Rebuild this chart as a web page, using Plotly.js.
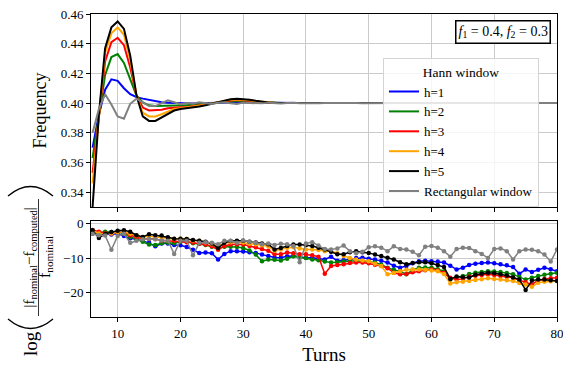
<!DOCTYPE html>
<html>
<head>
<meta charset="utf-8">
<script src="https://cdn.plot.ly/plotly-3.0.1.min.js"></script>
<style>html,body{margin:0;padding:0;background:#fff;}#chart{width:563px;height:366px;}</style>
</head>
<body>
<div id="chart"></div>
<script>
const turns = [6,7,8,9,10,11,12,13,14,15,16,17,18,19,20,21,22,23,24,25,26,27,28,29,30,31,32,33,34,35,36,37,38,39,40,41,42,43,44,45,46,47,48,49,50,51,52,53,54,55,56,57,58,59,60,61,62,63,64,65,66,67,68,69,70,71,72,73,74,75,76,77,78,79,80];
const xTickVals = [10,20,30,40,50,60,70,80];

const seriesNames = ["h=1","h=2","h=3","h=4","h=5","Rectangular window"];
const seriesColors = ["#0000ff","#008000","#ff0000","#ffa500","#000000","#808080"];

// Frequency (top panel)
const freq_h1 = [0.370,0.392,0.409,0.416,0.415,0.410,0.406,0.404,0.403,0.402,0.401,0.4005,0.4003,0.4001,0.4,0.3998,0.3997,0.3998,0.4,0.4,0.4002,0.4004,0.4005,0.4005,0.4005,0.4004,0.4003,0.4002,0.4001,0.4,0.4,0.4,0.4001,0.4,0.4,0.3999,0.4,0.4,0.4,0.4001,0.4,0.4,0.4,0.4,0.4,0.4,0.4,0.4001,0.4,0.4,0.4,0.4,0.4,0.4,0.4,0.4,0.4,0.4,0.4,0.4,0.4,0.4,0.4,0.4,0.4,0.4,0.4,0.4,0.4,0.4,0.4,0.4,0.4,0.4,0.4];
const freq_h2 = [0.363,0.392,0.419,0.431,0.433,0.427,0.416,0.405,0.4005,0.3985,0.398,0.398,0.3983,0.3985,0.3985,0.3985,0.3988,0.3992,0.3996,0.4,0.4005,0.401,0.4013,0.4014,0.4013,0.401,0.4007,0.4004,0.4002,0.4001,0.4,0.4,0.4,0.4,0.4,0.4,0.4,0.4,0.4,0.4,0.4,0.4,0.4,0.4,0.4,0.4,0.4,0.4,0.4,0.4,0.4,0.4,0.4,0.4,0.4,0.4,0.4,0.4,0.4,0.4,0.4,0.4,0.4,0.4,0.4,0.4,0.4,0.4,0.4,0.4,0.4,0.4,0.4,0.4,0.4];
const freq_h3 = [0.353,0.392,0.428,0.441,0.444,0.439,0.424,0.405,0.397,0.395,0.395,0.3955,0.3965,0.397,0.3972,0.3974,0.3978,0.3984,0.399,0.3998,0.4006,0.4013,0.4018,0.402,0.4019,0.4015,0.401,0.4006,0.4003,0.4001,0.4,0.4,0.4,0.4,0.4,0.4,0.4,0.4,0.4,0.4,0.4,0.4,0.4,0.4,0.4,0.4,0.4,0.4,0.4,0.4,0.4,0.4,0.4,0.4,0.4,0.4,0.4,0.4,0.4,0.4,0.4,0.4,0.4,0.4,0.4,0.4,0.4,0.4,0.4,0.4,0.4,0.4,0.4,0.4,0.4];
const freq_h4 = [0.346,0.392,0.434,0.447,0.451,0.446,0.429,0.405,0.3935,0.391,0.391,0.3925,0.3945,0.396,0.3965,0.397,0.3973,0.398,0.3988,0.3997,0.4007,0.4016,0.4022,0.4024,0.4023,0.4019,0.4013,0.4008,0.4004,0.4002,0.4,0.4,0.4,0.4,0.4,0.4,0.4,0.4,0.4,0.4,0.4,0.4,0.4,0.4,0.4,0.4,0.4,0.4,0.4,0.4,0.4,0.4,0.4,0.4,0.4,0.4,0.4,0.4,0.4,0.4,0.4,0.4,0.4,0.4,0.4,0.4,0.4,0.4,0.4,0.4,0.4,0.4,0.4,0.4,0.4];
const freq_h5 = [0.330,0.392,0.437,0.451,0.455,0.450,0.432,0.405,0.391,0.388,0.388,0.3905,0.393,0.395,0.396,0.3965,0.397,0.3977,0.3986,0.3996,0.4008,0.4018,0.4026,0.4029,0.4028,0.4023,0.4016,0.4009,0.4004,0.4002,0.4,0.4,0.4,0.4,0.4,0.4,0.4,0.4,0.4,0.4,0.4,0.4,0.4,0.4,0.4,0.4,0.4,0.4,0.4,0.4,0.4,0.4,0.4,0.4,0.4,0.4,0.4,0.4,0.4,0.4,0.4,0.4,0.4,0.4,0.4,0.4,0.4,0.4,0.4,0.4,0.4,0.4,0.4,0.4,0.4];
const freq_rect = [0.380,0.396,0.406,0.399,0.391,0.3895,0.3995,0.403,0.4005,0.398,0.398,0.4,0.4018,0.4005,0.3992,0.4,0.3996,0.4006,0.4,0.3994,0.4002,0.4005,0.3998,0.3994,0.4003,0.4001,0.3995,0.3998,0.4003,0.4,0.3997,0.4,0.4002,0.3998,0.4,0.4001,0.3999,0.4,0.4001,0.3999,0.4,0.4,0.4001,0.3999,0.4,0.4,0.4001,0.4,0.3999,0.4,0.4,0.4001,0.4,0.3999,0.4,0.4,0.4001,0.4,0.3999,0.4,0.4,0.4,0.4001,0.4,0.3999,0.4,0.4,0.4001,0.4,0.3999,0.4,0.4,0.4,0.4001,0.4];

// log relative error (bottom panel)
const err_h1 = [-2.9,-3.0,-2.9,-3.2,-2.9,-3.6,-4.3,-4.6,-5.0,-5.6,-6.6,-5.8,-5.8,-6.2,-6.3,-6.8,-7.6,-8.5,-8.4,-8.6,-10.4,-8.8,-8.0,-8.0,-8.1,-8.3,-8.5,-9.0,-9.4,-9.8,-9.9,-9.5,-9.4,-9.7,-9.9,-9.9,-10.2,-10.4,-9.6,-10.8,-10.6,-10.3,-10.0,-9.9,-10.2,-10.4,-10.8,-11.3,-12.2,-12.8,-12.3,-11.5,-10.9,-10.8,-10.9,-11.0,-11.3,-12.2,-13.3,-12.8,-12.0,-11.6,-11.4,-11.3,-11.5,-11.8,-12.1,-12.6,-14.5,-13.3,-14.0,-13.4,-12.8,-13.2,-13.8];
const err_h2 = [-2.9,-2.6,-2.4,-2.5,-2.4,-3.0,-3.9,-4.6,-5.3,-6.1,-6.2,-5.7,-5.6,-5.7,-5.3,-5.3,-5.7,-5.9,-6.2,-6.7,-7.2,-6.7,-6.7,-6.8,-7.1,-7.8,-9.0,-10.9,-10.4,-10.5,-10.7,-10.2,-9.5,-9.8,-10.0,-10.4,-10.6,-11.0,-11.3,-11.2,-11.0,-10.8,-10.8,-10.9,-11.1,-11.3,-11.9,-12.8,-13.4,-13.8,-14.7,-13.4,-12.8,-12.7,-12.8,-13.2,-13.8,-16.2,-15.5,-15.2,-14.6,-14.2,-14.0,-13.8,-13.9,-14.0,-14.3,-14.7,-15.4,-16.2,-15.7,-15.2,-14.8,-14.5,-14.2];
const err_h3 = [-1.9,-2.4,-2.8,-2.9,-2.5,-2.6,-3.4,-4.0,-4.4,-4.5,-4.5,-4.9,-5.0,-5.0,-5.1,-5.4,-5.5,-5.9,-6.1,-6.6,-7.6,-6.5,-6.1,-6.0,-6.1,-6.5,-6.9,-7.4,-7.9,-8.9,-8.9,-8.4,-8.6,-8.9,-8.9,-9.2,-9.6,-14.5,-12.3,-12.0,-11.8,-11.4,-11.3,-11.3,-11.5,-11.9,-12.3,-12.9,-14.2,-14.7,-14.6,-14.1,-13.8,-13.5,-13.3,-13.6,-14.2,-15.7,-16.2,-16.0,-15.4,-15.1,-14.9,-14.7,-14.9,-15.2,-15.4,-15.7,-16.4,-17.0,-17.6,-16.4,-16.0,-15.8,-15.7];
const err_h4 = [-2.1,-2.9,-3.0,-2.9,-2.5,-2.5,-3.0,-3.5,-4.0,-3.6,-4.0,-4.0,-4.4,-4.5,-4.4,-4.5,-4.9,-5.0,-5.4,-6.0,-6.6,-5.6,-5.4,-5.4,-5.5,-5.9,-6.0,-6.3,-6.6,-7.9,-7.5,-7.0,-6.9,-7.2,-7.5,-7.5,-7.7,-8.0,-8.0,-8.6,-9.4,-10.0,-10.4,-10.7,-10.9,-11.6,-12.3,-14.7,-14.3,-13.8,-13.4,-13.3,-13.3,-13.4,-13.6,-13.8,-14.6,-17.3,-17.0,-16.8,-16.6,-16.3,-16.1,-15.8,-16.0,-16.2,-16.4,-16.6,-17.2,-17.6,-18.3,-17.1,-16.8,-16.7,-16.6];
const err_h5 = [-2.0,-4.2,-3.0,-2.5,-2.1,-2.0,-2.4,-3.4,-3.9,-3.1,-3.4,-3.5,-4.0,-4.4,-4.4,-4.5,-4.8,-5.0,-5.3,-5.8,-7.1,-5.6,-5.1,-5.0,-5.0,-5.3,-5.5,-5.8,-6.0,-7.5,-7.1,-6.5,-6.1,-6.1,-6.2,-6.5,-7.0,-7.5,-8.2,-8.9,-8.9,-8.3,-8.0,-8.3,-8.5,-9.0,-9.4,-9.9,-10.4,-11.2,-11.8,-11.4,-11.2,-11.2,-11.5,-12.0,-12.6,-16.0,-15.3,-15.5,-15.6,-14.8,-14.5,-14.2,-14.4,-14.7,-15.0,-15.6,-16.2,-19.2,-16.5,-16.2,-16.2,-16.4,-16.6];
const err_rect = [-3.0,-3.4,-3.5,-7.6,-3.6,-3.0,-5.6,-5.0,-4.6,-4.4,-4.6,-4.9,-5.0,-8.8,-5.0,-5.0,-9.2,-5.6,-5.4,-5.6,-6.0,-5.0,-5.0,-5.6,-4.9,-5.3,-5.6,-6.0,-5.8,-6.2,-5.9,-6.0,-6.5,-11.2,-5.8,-5.4,-6.4,-7.4,-7.5,-7.2,-6.4,-8.0,-8.6,-8.2,-6.9,-6.6,-7.0,-8.0,-6.6,-7.4,-7.5,-8.2,-9.2,-6.7,-6.5,-7.0,-8.0,-9.6,-7.4,-7.0,-7.1,-8.0,-8.8,-10.0,-7.4,-7.2,-8.0,-10.4,-8.0,-7.5,-7.6,-8.0,-9.0,-11.0,-7.5];

const freqSeries = [freq_h1,freq_h2,freq_h3,freq_h4,freq_h5,freq_rect];
const errSeries = [err_h1,err_h2,err_h3,err_h4,err_h5,err_rect];

const FONT = "Liberation Serif, Times New Roman, serif";
const L = 91, R = 557, T = 14, B = 317, W = R - L, H = B - T;
const px = x => (x - L) / W;
const py = y => (B - y) / H;

const traces = [];
freqSeries.forEach((s, i) => {
  traces.push({x: turns, y: s, xaxis: 'x', yaxis: 'y', type: 'scatter', mode: 'lines',
    name: seriesNames[i], line: {color: seriesColors[i], width: 2}, showlegend: true});
});
errSeries.forEach((s, i) => {
  traces.push({x: turns, y: s, xaxis: 'x2', yaxis: 'y2', type: 'scatter', mode: 'lines+markers',
    name: seriesNames[i], line: {color: seriesColors[i], width: 1.5},
    marker: {color: seriesColors[i], size: 4.5}, showlegend: false});
});

const axBase = {
  showline: true, mirror: true, linecolor: '#000', linewidth: 1,
  ticks: 'outside', ticklen: 4, tickwidth: 1, tickcolor: '#000',
  showgrid: true, gridcolor: '#cbcbcb', gridwidth: 1, zeroline: false,
  ticklabeloverflow: 'allow',
  tickfont: {family: FONT, size: 13, color: '#000'}
};

const layout = {
  width: 563, height: 366,
  margin: {l: L, r: 563 - R, t: T, b: 366 - B},
  paper_bgcolor: '#fff', plot_bgcolor: '#fff',
  font: {family: FONT, color: '#000'},
  xaxis: Object.assign({}, axBase, {domain: [0, 1], anchor: 'y', range: [5.75, 80], tickmode: 'array', tickvals: xTickVals, showticklabels: false}),
  yaxis: Object.assign({}, axBase, {domain: [py(207), 1], anchor: 'x', range: [0.33, 0.46], dtick: 0.02, tick0: 0.34, tickformat: '.2f',
    title: {text: 'Frequency', font: {family: FONT, size: 18, color: '#000'}, standoff: 9}}),
  xaxis2: Object.assign({}, axBase, {domain: [0, 1], anchor: 'y2', range: [5.75, 80], tickmode: 'array', tickvals: xTickVals,
    title: {text: 'Turns', font: {family: FONT, size: 19, color: '#000'}, standoff: 8}}),
  yaxis2: Object.assign({}, axBase, {domain: [0, py(221)], anchor: 'x2', range: [-27, 0.7], dtick: 10, tick0: 0}),
  legend: {
    x: px(383), y: py(58), xanchor: 'left', yanchor: 'top',
    bgcolor: 'rgba(255,255,255,0.8)', bordercolor: '#d4d4d4', borderwidth: 1,
    font: {family: FONT, size: 13, color: '#000'},
    title: {text: 'Hann window', side: 'top center', font: {family: FONT, size: 13.5, color: '#000'}}
  },
  annotations: [
    {xref: 'paper', yref: 'paper', x: px(551), y: py(32), xanchor: 'right', yanchor: 'middle', showarrow: false,
     text: '<i>f</i><sub>1</sub> = 0.4, <i>f</i><sub>2</sub> = 0.3', font: {family: FONT, size: 14, color: '#000'},
     bordercolor: '#000', borderwidth: 1.5, borderpad: 2, bgcolor: '#fff'},
    {xref: 'paper', yref: 'paper', x: px(30), y: py(343), xanchor: 'center', yanchor: 'middle', showarrow: false, textangle: -90,
     text: 'log', font: {family: FONT, size: 19, color: '#000'}},
    {xref: 'paper', yref: 'paper', x: px(29.5), y: py(258), xanchor: 'center', yanchor: 'middle', showarrow: false, textangle: -90,
     text: '|f<sub>nominal</sub>\u2212f<sub>computed</sub>|', font: {family: FONT, size: 15, color: '#000'}},
    {xref: 'paper', yref: 'paper', x: px(45), y: py(257), xanchor: 'center', yanchor: 'middle', showarrow: false, textangle: -90,
     text: 'f<sub>nominal</sub>', font: {family: FONT, size: 16, color: '#000'}}
  ],
  shapes: [
    {type: 'line', xref: 'paper', yref: 'paper', x0: px(38.5), x1: px(38.5), y0: py(199), y1: py(316), line: {color: '#000', width: 0.8}},
    {type: 'path', xref: 'paper', yref: 'paper', line: {color: '#000', width: 1.3},
     path: `M ${px(8)},${py(319)} Q ${px(30.5)},${py(338)} ${px(53)},${py(319)}`},
    {type: 'path', xref: 'paper', yref: 'paper', line: {color: '#000', width: 1.3},
     path: `M ${px(8)},${py(196)} Q ${px(30.5)},${py(177)} ${px(53)},${py(196)}`}
  ]
};

Plotly.newPlot('chart', traces, layout, {displayModeBar: false, staticPlot: true});
</script>
</body>
</html>
